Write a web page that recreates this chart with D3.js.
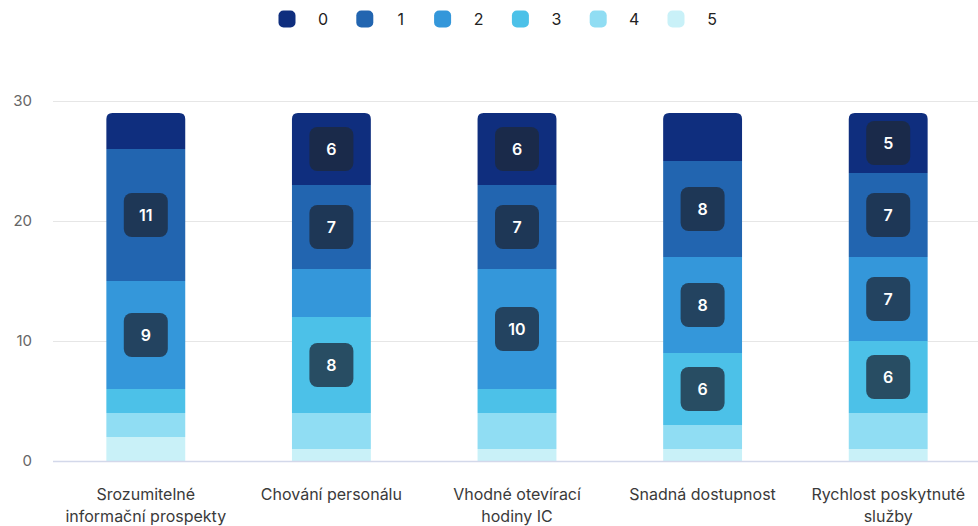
<!DOCTYPE html>
<html><head><meta charset="utf-8">
<script src="https://cdn.jsdelivr.net/npm/d3@7"></script>
<style>body{margin:0;background:#fff;font-family:Inter,"Noto Sans",sans-serif;}</style>
</head><body><svg id="c" width="978" height="526"></svg>
<script>
const categories = [["Srozumitelné","informační prospekty"],["Chování personálu"],["Vhodné otevírací","hodiny IC"],["Snadná dostupnost"],["Rychlost poskytnuté","služby"]];
const seriesNames = ["0","1","2","3","4","5"];
const s0 = [3,6,6,4,5];
const s1 = [11,7,7,8,7];
const s2 = [9,4,10,8,7];
const s3 = [2,8,2,6,6];
const s4 = [2,3,3,2,3];
const s5 = [2,1,1,1,1];
const colors = ["#0f2e7e","#2265b0","#3497da","#4cc1e8","#90ddf3","#c9f1f8"];
const yTicks = [0,10,20,30];
const labelMin = 5;

const seriesVals = [s0,s1,s2,s3,s4,s5];
const svg = d3.select("#c");
const W = 978, H = 526;
const m = {l:53, r:-3, t:101, b:65};
const x = d3.scaleBand().domain(d3.range(categories.length)).range([m.l, W - m.r]).paddingInner(0.575).paddingOuter(0.2875);
const y = d3.scaleLinear().domain([0,30]).range([H - m.b, m.t]);

// grid
svg.append("g").selectAll("line").data(yTicks.filter(d=>d>0)).join("line")
  .attr("x1", m.l).attr("x2", W).attr("y1", d=>y(d)+0.5).attr("y2", d=>y(d)+0.5)
  .attr("stroke","#e6e6e6").attr("stroke-width",1);
svg.append("g").selectAll("text").data(yTicks).join("text")
  .attr("x", 32).attr("y", d=>y(d)).attr("dy","0.35em").attr("text-anchor","end")
  .attr("fill","#666").attr("font-size",15).text(d=>d);

// stack order: series 5 at bottom ... series 0 at top
const order = [5,4,3,2,1,0];
const rows = categories.map((c,i)=>{const o={i}; seriesNames.forEach((s,k)=>o[s]=seriesVals[k][i]); return o;});
const stack = d3.stack().keys(order.map(k=>seriesNames[k]));
const layers = stack(rows);
const r = 6;
layers.forEach((layer, li) => {
  const k = order[li];
  const isTop = li === layers.length - 1;
  const g = svg.append("g");
  layer.forEach((d, i) => {
    const x0 = x(i), w = x.bandwidth(), yt = y(d[1]), yb = y(d[0]);
    if (isTop) {
      g.append("path").attr("fill", colors[k]).attr("d",
        `M${x0},${yb}V${yt+r}Q${x0},${yt} ${x0+r},${yt}H${x0+w-r}Q${x0+w},${yt} ${x0+w},${yt+r}V${yb}Z`);
    } else {
      g.append("rect").attr("x", x0).attr("y", yt).attr("width", w).attr("height", yb-yt).attr("fill", colors[k]);
    }
  });
});
// labels
layers.forEach((layer, li) => {
  layer.forEach((d, i) => {
    const v = d[1]-d[0];
    if (v < labelMin) return;
    const cx = x(i) + x.bandwidth()/2, cy = (y(d[0])+y(d[1]))/2;
    svg.append("rect").attr("x", cx-22).attr("y", cy-22).attr("width",44).attr("height",44)
      .attr("rx",8).attr("fill","rgba(30,41,59,0.77)");
    svg.append("text").attr("x",cx).attr("y",cy).attr("dy","0.36em").attr("text-anchor","middle")
      .attr("fill","#fff").attr("font-size",16).attr("font-weight",600).text(v);
  });
});
// baseline
svg.append("line").attr("x1", m.l).attr("x2", W).attr("y1", y(0)+0.5).attr("y2", y(0)+0.5)
  .attr("stroke","#d3d8ea").attr("stroke-width",1.5);
// category labels
categories.forEach((lines, i) => {
  const t = svg.append("text").attr("x", x(i)+x.bandwidth()/2).attr("y", 500).attr("text-anchor","middle")
    .attr("fill","#3a3a3a").attr("font-size",16);
  lines.forEach((ln, j) => t.append("tspan").attr("x", x(i)+x.bandwidth()/2).attr("dy", j===0?0:22).text(ln));
});
// legend
const lg = svg.append("g");
seriesNames.forEach((s, k) => {
  const cx = 287 + k*77.8;
  lg.append("rect").attr("x", cx-8.5).attr("y", 10.5).attr("width",17).attr("height",17).attr("rx",5).attr("fill",colors[k]);
  lg.append("text").attr("x", cx+36).attr("y", 19).attr("dy","0.36em").attr("text-anchor","middle")
    .attr("fill","#222").attr("font-size",16).text(s);
});
</script></body></html>
